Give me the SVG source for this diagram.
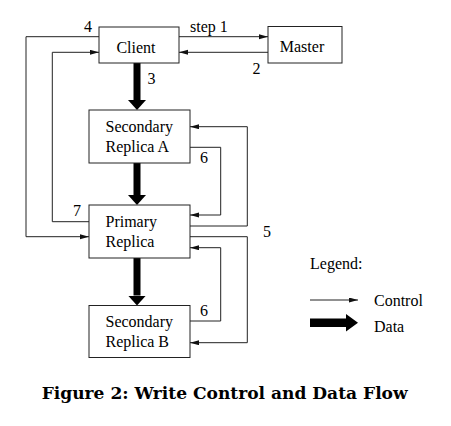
<svg xmlns="http://www.w3.org/2000/svg" width="451" height="426" viewBox="0 0 451 426">
<style>
.box{fill:#fff;stroke:#222;stroke-width:1}
.ctl{fill:none;stroke:#222;stroke-width:1;marker-end:url(#ah)}
.dat{fill:none;stroke:#000;stroke-width:7;marker-end:url(#dh)}
.t{font-family:"Liberation Serif","Times New Roman",serif;font-size:16px;fill:#000}
.cap{font-family:"DejaVu Serif",serif;font-weight:bold;font-size:16px;fill:#000}
</style>
<defs>
<marker id="ah" markerUnits="userSpaceOnUse" markerWidth="10" markerHeight="6" refX="9" refY="2.5" orient="auto">
<path d="M0,0 L9,2.5 L0,5 z" fill="#111"/>
</marker>
<marker id="dh" markerUnits="userSpaceOnUse" markerWidth="11" markerHeight="19" refX="0" refY="9" orient="auto">
<path d="M0,0 L10,9 L0,18 z" fill="#000"/>
</marker>
</defs>
<rect width="451" height="426" fill="#fff"/>
<g id="connectors">
<path class="ctl" d="M179,36.7 H268"/>
<path class="ctl" d="M268,52.3 H179"/>
<path class="ctl" d="M99,36.7 H26 V236.7 H89"/>
<path class="ctl" d="M89,221.7 H52.3 V52.3 H99"/>
<path class="ctl" d="M190,226 H247.3 V126.7 H190"/>
<path class="ctl" d="M190,147.3 H220.7 V215 H190"/>
<path class="ctl" d="M190,236.7 H247.3 V342.7 H190"/>
<path class="ctl" d="M190,321 H220.7 V247.7 H190"/>
<path class="dat" d="M137,63 V100"/>
<path class="dat" d="M137,163 V195"/>
<path class="dat" d="M137,258 V295.5"/>
<text class="t" x="190" y="32">step 1</text>
<text class="t" x="252.5" y="74">2</text>
<text class="t" x="147.5" y="84">3</text>
<text class="t" x="84" y="32">4</text>
<text class="t" x="263" y="236.5">5</text>
<text class="t" x="200" y="163.3">6</text>
<text class="t" x="200" y="316">6</text>
<text class="t" x="73" y="216">7</text>
</g>
<g id="client">
<rect class="box" x="99" y="27" width="80" height="36"/>
<text class="t" x="136" y="53" text-anchor="middle">Client</text>
</g>
<g id="master">
<rect class="box" x="268" y="26.5" width="74" height="36.5"/>
<text class="t" x="302" y="52" text-anchor="middle">Master</text>
</g>
<g id="secondary-a">
<rect class="box" x="89" y="110" width="101" height="53"/>
<text class="t" x="105.5" y="132">Secondary</text>
<text class="t" x="105.5" y="152">Replica A</text>
</g>
<g id="primary">
<rect class="box" x="89" y="205" width="101" height="53"/>
<text class="t" x="105.5" y="226.5">Primary</text>
<text class="t" x="105.5" y="246.5">Replica</text>
</g>
<g id="secondary-b">
<rect class="box" x="89" y="305.5" width="101" height="52"/>
<text class="t" x="105.5" y="326.5">Secondary</text>
<text class="t" x="105.5" y="346.5">Replica B</text>
</g>
<g id="legend">
<text class="t" x="310" y="269">Legend:</text>
<path class="ctl" d="M310,300 H358"/>
<text class="t" x="374" y="306">Control</text>
<polygon points="310,318.5 346,318.5 346,314 358,322.7 346,331.5 346,327 310,327" fill="#000"/>
<text class="t" x="374" y="332">Data</text>
</g>
<g id="caption">
<text class="cap" x="41.7" y="399" textLength="366" lengthAdjust="spacingAndGlyphs">Figure 2: Write Control and Data Flow</text>
</g>
</svg>
